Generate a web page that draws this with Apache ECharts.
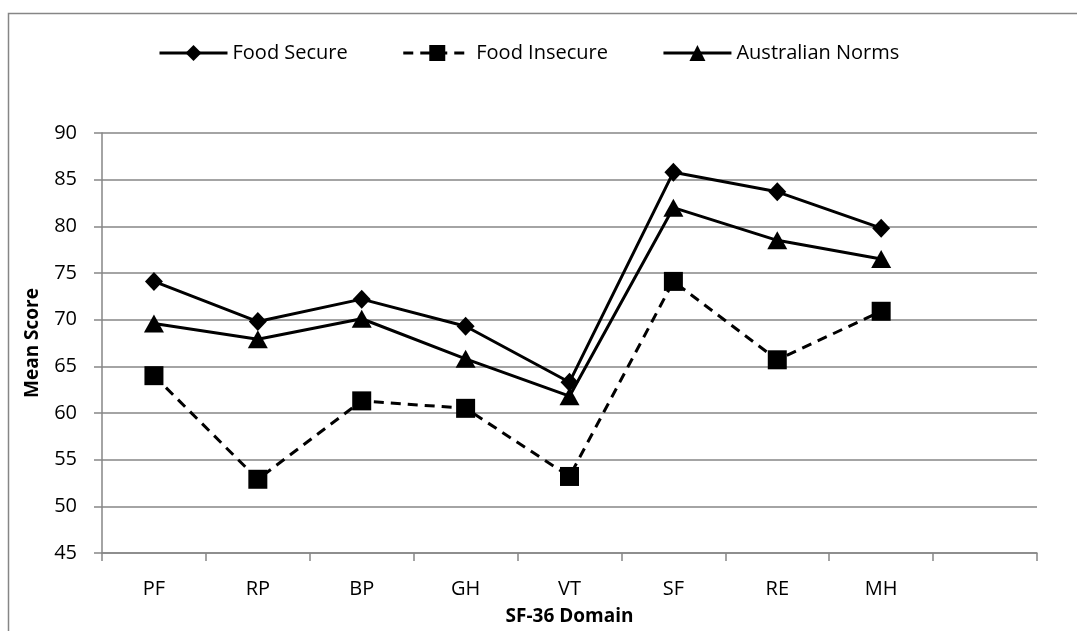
<!DOCTYPE html>
<html>
<head>
<meta charset="utf-8">
<script src="https://cdn.jsdelivr.net/npm/echarts@6/dist/echarts.min.js"></script>
<style>
  html, body { margin: 0; padding: 0; background: #fff; }
  #chart { width: 1077px; height: 631px; }
</style>
</head>
<body>
<div id="chart"></div>
<script>
// categories (last slot is empty, as in the original)
var domains = ['PF', 'RP', 'BP', 'GH', 'VT', 'SF', 'RE', 'MH', ''];
var foodSecure = [74.1, 69.8, 72.2, 69.3, 63.3, 85.8, 83.7, 79.8];
var foodInsecure = [64.0, 52.9, 61.3, 60.5, 53.2, 74.1, 65.7, 70.9];
var ausNorms = [69.6, 67.9, 70.1, 65.8, 61.8, 82.0, 78.5, 76.5];
var yTicks = { min: 45, max: 90, step: 5 };

var font = '"Open Sans", "Noto Sans", sans-serif';
var gray = '#868686';

var chart = echarts.init(document.getElementById('chart'));

var option = {
    animation: false,
    backgroundColor: '#fff',
    textStyle: { fontFamily: font },
    graphic: [{
        type: 'rect',
        shape: { x: 8.5, y: 13.5, width: 1200, height: 800 },
        style: { fill: 'none', stroke: gray, lineWidth: 1.5 },
        silent: true
    }],
    legend: {
        top: 38,
        left: 153,
        itemWidth: 68,
        itemHeight: 20,
        itemGap: 54,
        lineStyle: { width: 3 },
        textStyle: { fontFamily: font, fontSize: 20, color: '#000' },
        data: ['Food Secure', 'Food Insecure', 'Australian Norms']
    },
    grid: { left: 102, right: 40, top: 133, bottom: 78, outerBoundsMode: 'none' },
    xAxis: {
        type: 'category',
        data: domains,
        boundaryGap: true,
        name: 'SF-36 Domain',
        nameLocation: 'middle',
        nameGap: 54,
        nameTextStyle: { fontFamily: font, fontSize: 19, fontWeight: 'bold', color: '#000' },
        axisLine: { lineStyle: { color: gray, width: 1.5 } },
        axisTick: { show: true, interval: 0, length: 8, lineStyle: { color: gray, width: 1.5 } },
        axisLabel: { interval: 0, margin: 26, fontSize: 20, color: '#000', fontFamily: font }
    },
    yAxis: {
        type: 'value',
        min: yTicks.min,
        max: yTicks.max,
        interval: yTicks.step,
        name: 'Mean Score',
        nameLocation: 'middle',
        nameRotate: 90,
        nameGap: 60,
        nameTextStyle: { fontFamily: font, fontSize: 19, fontWeight: 'bold', color: '#000' },
        axisLine: { show: true, lineStyle: { color: gray, width: 1.5 } },
        axisTick: { show: true, length: 8, lineStyle: { color: gray, width: 1.5 } },
        axisLabel: { margin: 25, fontSize: 20, color: '#000', fontFamily: font },
        splitLine: { lineStyle: { color: gray, width: 1.5 } }
    },
    series: [
        {
            name: 'Food Secure',
            type: 'line',
            data: foodSecure,
            symbol: 'diamond',
            symbolSize: [18, 19],
            lineStyle: { color: '#000', width: 3 },
            itemStyle: { color: '#000' },
            z: 3
        },
        {
            name: 'Food Insecure',
            type: 'line',
            data: foodInsecure,
            symbol: 'rect',
            symbolSize: 19,
            lineStyle: { color: '#000', width: 3, type: [10, 7] },
            itemStyle: { color: '#000' },
            z: 2
        },
        {
            name: 'Australian Norms',
            type: 'line',
            data: ausNorms,
            symbol: 'triangle',
            symbolSize: [20, 18],
            lineStyle: { color: '#000', width: 3 },
            itemStyle: { color: '#000' },
            z: 3
        }
    ]
};

chart.setOption(option);
</script>
</body>
</html>
